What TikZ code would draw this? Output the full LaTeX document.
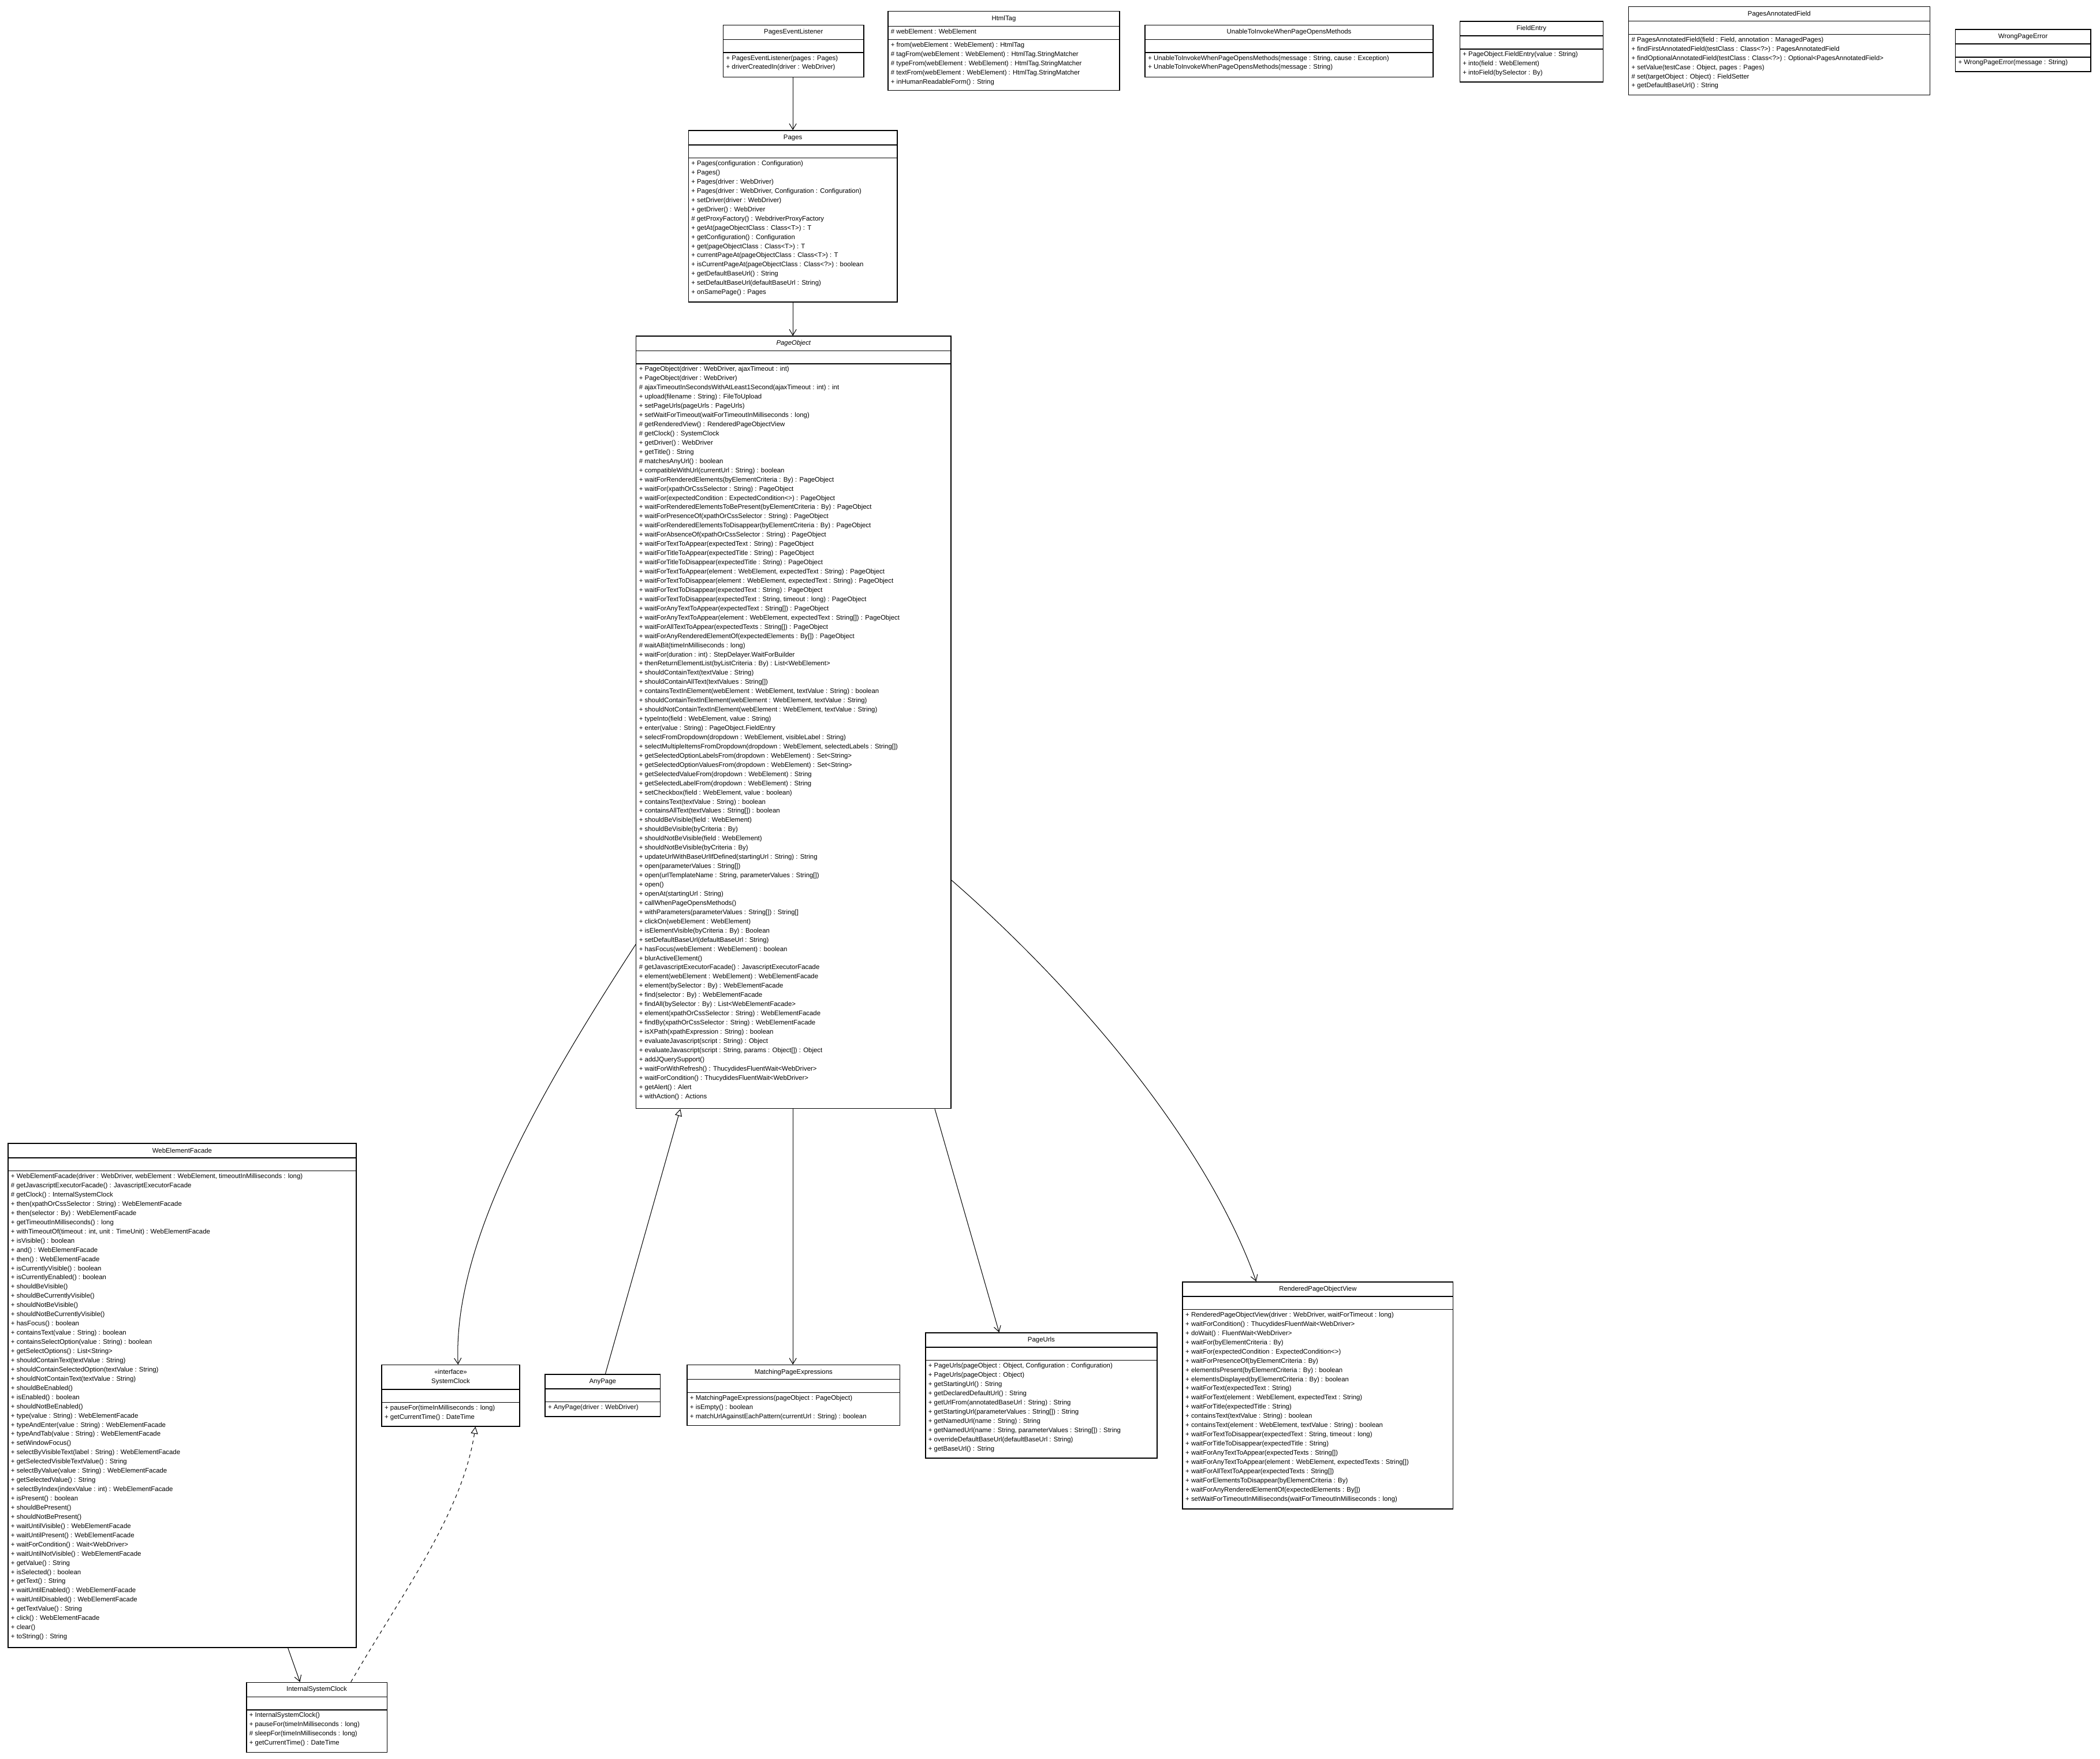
\documentclass[tikz,border=0pt]{standalone}
\usepackage{fontspec}
\setmainfont{Liberation Sans}
\usetikzlibrary{fit,arrows.meta}
\newcommand\bodyfont{\fontsize{5.6}{7.82}\selectfont}
\tikzset{
  ttl/.style={anchor=center,align=center,inner sep=0pt,font=\bodyfont},
  body/.style={anchor=north west,align=left,inner sep=0pt,font=\bodyfont},
  boxline/.style={line width=0.7pt},
  assoc/.style={line width=0.5pt,-{Straight Barb[length=5pt,width=6pt]}},
  gener/.style={line width=0.5pt,-{Triangle[open,length=6pt,width=6pt,fill=white]}},
}
\newcommand\umlclass[9]{%
  \node[fit={(#2,#4)(#3,#7)},inner sep=0pt,draw,boxline] (#1) {};
  \draw[boxline] (#2,#5) -- (#3,#5) (#2,#6) -- (#3,#6);
  \node[ttl] at ({(#2+#3)/2},{(#4+#5)/2}) {#8};
  \node[body] at (#2+2,#6+1.8) {#9};
}
\begin{document}
\begin{tikzpicture}[x=0.04cm,y=-0.04cm]
\useasboundingbox[fill=white] (0,0) rectangle (1568,1312.8);

\umlclass{pel}{540}{645}{18.7}{29.5}{39.3}{57.5}{PagesEventListener}{%
+ PagesEventListener(pages : Pages)\\
+ driverCreatedIn(driver : WebDriver)}

\umlclass{html}{663}{836}{8.3}{19.7}{29.5}{67.5}{HtmlTag}{%
+ from(webElement : WebElement) : HtmlTag\\
\# tagFrom(webElement : WebElement) : HtmlTag.StringMatcher\\
\# typeFrom(webElement : WebElement) : HtmlTag.StringMatcher\\
\# textFrom(webElement : WebElement) : HtmlTag.StringMatcher\\
+ inHumanReadableForm() : String}
\node[body] at (665,21.5) {\# webElement : WebElement};

\umlclass{unable}{855}{1070}{18.7}{29.5}{39.3}{57.5}{UnableToInvokeWhenPageOpensMethods}{%
+ UnableToInvokeWhenPageOpensMethods(message : String, cause : Exception)\\
+ UnableToInvokeWhenPageOpensMethods(message : String)}

\umlclass{fe}{1090}{1197}{16}{26.8}{36.6}{61.3}{FieldEntry}{%
+ PageObject.FieldEntry(value : String)\\
+ into(field : WebElement)\\
+ intoField(bySelector : By)}

\umlclass{paf}{1216}{1441}{5}{15.8}{25.6}{71}{PagesAnnotatedField}{%
\# PagesAnnotatedField(field : Field, annotation : ManagedPages)\\
+ findFirstAnnotatedField(testClass : Class<?>) : PagesAnnotatedField\\
+ findOptionalAnnotatedField(testClass : Class<?>) : Optional<PagesAnnotatedField>\\
+ setValue(testCase : Object, pages : Pages)\\
\# set(targetObject : Object) : FieldSetter\\
+ getDefaultBaseUrl() : String}

\umlclass{wpe}{1460}{1561}{22}{32.8}{42.6}{53.5}{WrongPageError}{%
+ WrongPageError(message : String)}

\umlclass{pages}{514}{670}{97.4}{108.2}{118}{225.5}{Pages}{%
+ Pages(configuration : Configuration)\\
+ Pages()\\
+ Pages(driver : WebDriver)\\
+ Pages(driver : WebDriver, Configuration : Configuration)\\
+ setDriver(driver : WebDriver)\\
+ getDriver() : WebDriver\\
\# getProxyFactory() : WebdriverProxyFactory\\
+ getAt(pageObjectClass : Class<T>) : T\\
+ getConfiguration() : Configuration\\
+ get(pageObjectClass : Class<T>) : T\\
+ currentPageAt(pageObjectClass : Class<T>) : T\\
+ isCurrentPageAt(pageObjectClass : Class<?>) : boolean\\
+ getDefaultBaseUrl() : String\\
+ setDefaultBaseUrl(defaultBaseUrl : String)\\
+ onSamePage() : Pages}

\umlclass{po}{475}{710}{251}{261.8}{271.6}{827.6}{\itshape PageObject}{%
+ PageObject(driver : WebDriver, ajaxTimeout : int)\\
+ PageObject(driver : WebDriver)\\
\# ajaxTimeoutInSecondsWithAtLeast1Second(ajaxTimeout : int) : int\\
+ upload(filename : String) : FileToUpload\\
+ setPageUrls(pageUrls : PageUrls)\\
+ setWaitForTimeout(waitForTimeoutInMilliseconds : long)\\
\# getRenderedView() : RenderedPageObjectView\\
\# getClock() : SystemClock\\
+ getDriver() : WebDriver\\
+ getTitle() : String\\
\# matchesAnyUrl() : boolean\\
+ compatibleWithUrl(currentUrl : String) : boolean\\
+ waitForRenderedElements(byElementCriteria : By) : PageObject\\
+ waitFor(xpathOrCssSelector : String) : PageObject\\
+ waitFor(expectedCondition : ExpectedCondition<>) : PageObject\\
+ waitForRenderedElementsToBePresent(byElementCriteria : By) : PageObject\\
+ waitForPresenceOf(xpathOrCssSelector : String) : PageObject\\
+ waitForRenderedElementsToDisappear(byElementCriteria : By) : PageObject\\
+ waitForAbsenceOf(xpathOrCssSelector : String) : PageObject\\
+ waitForTextToAppear(expectedText : String) : PageObject\\
+ waitForTitleToAppear(expectedTitle : String) : PageObject\\
+ waitForTitleToDisappear(expectedTitle : String) : PageObject\\
+ waitForTextToAppear(element : WebElement, expectedText : String) : PageObject\\
+ waitForTextToDisappear(element : WebElement, expectedText : String) : PageObject\\
+ waitForTextToDisappear(expectedText : String) : PageObject\\
+ waitForTextToDisappear(expectedText : String, timeout : long) : PageObject\\
+ waitForAnyTextToAppear(expectedText : String[]) : PageObject\\
+ waitForAnyTextToAppear(element : WebElement, expectedText : String[]) : PageObject\\
+ waitForAllTextToAppear(expectedTexts : String[]) : PageObject\\
+ waitForAnyRenderedElementOf(expectedElements : By[]) : PageObject\\
\# waitABit(timeInMilliseconds : long)\\
+ waitFor(duration : int) : StepDelayer.WaitForBuilder\\
+ thenReturnElementList(byListCriteria : By) : List<WebElement>\\
+ shouldContainText(textValue : String)\\
+ shouldContainAllText(textValues : String[])\\
+ containsTextInElement(webElement : WebElement, textValue : String) : boolean\\
+ shouldContainTextInElement(webElement : WebElement, textValue : String)\\
+ shouldNotContainTextInElement(webElement : WebElement, textValue : String)\\
+ typeInto(field : WebElement, value : String)\\
+ enter(value : String) : PageObject.FieldEntry\\
+ selectFromDropdown(dropdown : WebElement, visibleLabel : String)\\
+ selectMultipleItemsFromDropdown(dropdown : WebElement, selectedLabels : String[])\\
+ getSelectedOptionLabelsFrom(dropdown : WebElement) : Set<String>\\
+ getSelectedOptionValuesFrom(dropdown : WebElement) : Set<String>\\
+ getSelectedValueFrom(dropdown : WebElement) : String\\
+ getSelectedLabelFrom(dropdown : WebElement) : String\\
+ setCheckbox(field : WebElement, value : boolean)\\
+ containsText(textValue : String) : boolean\\
+ containsAllText(textValues : String[]) : boolean\\
+ shouldBeVisible(field : WebElement)\\
+ shouldBeVisible(byCriteria : By)\\
+ shouldNotBeVisible(field : WebElement)\\
+ shouldNotBeVisible(byCriteria : By)\\
+ updateUrlWithBaseUrlIfDefined(startingUrl : String) : String\\
+ open(parameterValues : String[])\\
+ open(urlTemplateName : String, parameterValues : String[])\\
+ open()\\
+ openAt(startingUrl : String)\\
+ callWhenPageOpensMethods()\\
+ withParameters(parameterValues : String[]) : String[]\\
+ clickOn(webElement : WebElement)\\
+ isElementVisible(byCriteria : By) : Boolean\\
+ setDefaultBaseUrl(defaultBaseUrl : String)\\
+ hasFocus(webElement : WebElement) : boolean\\
+ blurActiveElement()\\
\# getJavascriptExecutorFacade() : JavascriptExecutorFacade\\
+ element(webElement : WebElement) : WebElementFacade\\
+ element(bySelector : By) : WebElementFacade\\
+ find(selector : By) : WebElementFacade\\
+ findAll(bySelector : By) : List<WebElementFacade>\\
+ element(xpathOrCssSelector : String) : WebElementFacade\\
+ findBy(xpathOrCssSelector : String) : WebElementFacade\\
+ isXPath(xpathExpression : String) : boolean\\
+ evaluateJavascript(script : String) : Object\\
+ evaluateJavascript(script : String, params : Object[]) : Object\\
+ addJQuerySupport()\\
+ waitForWithRefresh() : ThucydidesFluentWait<WebDriver>\\
+ waitForCondition() : ThucydidesFluentWait<WebDriver>\\
+ getAlert() : Alert\\
+ withAction() : Actions}

\umlclass{wef}{6}{266}{853.6}{864.4}{874.2}{1230}{WebElementFacade}{%
+ WebElementFacade(driver : WebDriver, webElement : WebElement, timeoutInMilliseconds : long)\\
\# getJavascriptExecutorFacade() : JavascriptExecutorFacade\\
\# getClock() : InternalSystemClock\\
+ then(xpathOrCssSelector : String) : WebElementFacade\\
+ then(selector : By) : WebElementFacade\\
+ getTimeoutInMilliseconds() : long\\
+ withTimeoutOf(timeout : int, unit : TimeUnit) : WebElementFacade\\
+ isVisible() : boolean\\
+ and() : WebElementFacade\\
+ then() : WebElementFacade\\
+ isCurrentlyVisible() : boolean\\
+ isCurrentlyEnabled() : boolean\\
+ shouldBeVisible()\\
+ shouldBeCurrentlyVisible()\\
+ shouldNotBeVisible()\\
+ shouldNotBeCurrentlyVisible()\\
+ hasFocus() : boolean\\
+ containsText(value : String) : boolean\\
+ containsSelectOption(value : String) : boolean\\
+ getSelectOptions() : List<String>\\
+ shouldContainText(textValue : String)\\
+ shouldContainSelectedOption(textValue : String)\\
+ shouldNotContainText(textValue : String)\\
+ shouldBeEnabled()\\
+ isEnabled() : boolean\\
+ shouldNotBeEnabled()\\
+ type(value : String) : WebElementFacade\\
+ typeAndEnter(value : String) : WebElementFacade\\
+ typeAndTab(value : String) : WebElementFacade\\
+ setWindowFocus()\\
+ selectByVisibleText(label : String) : WebElementFacade\\
+ getSelectedVisibleTextValue() : String\\
+ selectByValue(value : String) : WebElementFacade\\
+ getSelectedValue() : String\\
+ selectByIndex(indexValue : int) : WebElementFacade\\
+ isPresent() : boolean\\
+ shouldBePresent()\\
+ shouldNotBePresent()\\
+ waitUntilVisible() : WebElementFacade\\
+ waitUntilPresent() : WebElementFacade\\
+ waitForCondition() : Wait<WebDriver>\\
+ waitUntilNotVisible() : WebElementFacade\\
+ getValue() : String\\
+ isSelected() : boolean\\
+ getText() : String\\
+ waitUntilEnabled() : WebElementFacade\\
+ waitUntilDisabled() : WebElementFacade\\
+ getTextValue() : String\\
+ click() : WebElementFacade\\
+ clear()\\
+ toString() : String}

\umlclass{sc}{285}{388}{1019}{1037.2}{1047}{1064.8}{«interface»\\SystemClock}{%
+ pauseFor(timeInMilliseconds : long)\\
+ getCurrentTime() : DateTime}

\umlclass{any}{407}{493}{1026}{1036.8}{1046.6}{1057.5}{AnyPage}{%
+ AnyPage(driver : WebDriver)}

\umlclass{mpe}{513}{672}{1019}{1029.8}{1039.6}{1064.3}{MatchingPageExpressions}{%
+ MatchingPageExpressions(pageObject : PageObject)\\
+ isEmpty() : boolean\\
+ matchUrlAgainstEachPattern(currentUrl : String) : boolean}

\umlclass{urls}{691}{864}{995}{1005.8}{1015.6}{1088.6}{PageUrls}{%
+ PageUrls(pageObject : Object, Configuration : Configuration)\\
+ PageUrls(pageObject : Object)\\
+ getStartingUrl() : String\\
+ getDeclaredDefaultUrl() : String\\
+ getUrlFrom(annotatedBaseUrl : String) : String\\
+ getStartingUrl(parameterValues : String[]) : String\\
+ getNamedUrl(name : String) : String\\
+ getNamedUrl(name : String, parameterValues : String[]) : String\\
+ overrideDefaultBaseUrl(defaultBaseUrl : String)\\
+ getBaseUrl() : String}

\umlclass{rpov}{883}{1085}{957}{967.8}{977.6}{1126.5}{RenderedPageObjectView}{%
+ RenderedPageObjectView(driver : WebDriver, waitForTimeout : long)\\
+ waitForCondition() : ThucydidesFluentWait<WebDriver>\\
+ doWait() : FluentWait<WebDriver>\\
+ waitFor(byElementCriteria : By)\\
+ waitFor(expectedCondition : ExpectedCondition<>)\\
+ waitForPresenceOf(byElementCriteria : By)\\
+ elementIsPresent(byElementCriteria : By) : boolean\\
+ elementIsDisplayed(byElementCriteria : By) : boolean\\
+ waitForText(expectedText : String)\\
+ waitForText(element : WebElement, expectedText : String)\\
+ waitForTitle(expectedTitle : String)\\
+ containsText(textValue : String) : boolean\\
+ containsText(element : WebElement, textValue : String) : boolean\\
+ waitForTextToDisappear(expectedText : String, timeout : long)\\
+ waitForTitleToDisappear(expectedTitle : String)\\
+ waitForAnyTextToAppear(expectedTexts : String[])\\
+ waitForAnyTextToAppear(element : WebElement, expectedTexts : String[])\\
+ waitForAllTextToAppear(expectedTexts : String[])\\
+ waitForElementsToDisappear(byElementCriteria : By)\\
+ waitForAnyRenderedElementOf(expectedElements : By[])\\
+ setWaitForTimeoutInMilliseconds(waitForTimeoutInMilliseconds : long)}

\umlclass{isc}{184}{289}{1256}{1266.8}{1276.6}{1308.2}{InternalSystemClock}{%
+ InternalSystemClock()\\
+ pauseFor(timeInMilliseconds : long)\\
\# sleepFor(timeInMilliseconds : long)\\
+ getCurrentTime() : DateTime}

\coordinate (kx592) at (592,0);
\coordinate (kx508) at (508,0);
\coordinate (kx452) at (452,0);
\coordinate (kx698) at (698,0);
\coordinate (kx746) at (746,0);
\coordinate (kx938) at (938,0);
\coordinate (kx342) at (342,0);
\coordinate (kx215) at (215,0);
\coordinate (kx224) at (224,0);
\coordinate (kx262) at (262,0);
\coordinate (kx355) at (355,0);
\coordinate (ky705) at (0,705);
\coordinate (ky657) at (0,657);

\draw[assoc] (pel.south -| kx592) -- (pages.north -| kx592);
\draw[assoc] (pages.south -| kx592) -- (po.north -| kx592);
\draw[assoc] (po.west |- ky705) .. controls (400,820) and (338,930) .. (sc.north -| kx342);
\draw[gener] (any.north -| kx452) -- (po.south -| kx508);
\draw[assoc] (po.south -| kx592) -- (mpe.north -| kx592);
\draw[assoc] (po.south -| kx698) -- (urls.north -| kx746);
\draw[assoc] (po.east |- ky657) .. controls (800,735) and (900,850) .. (rpov.north -| kx938);
\draw[assoc] (wef.south -| kx215) -- (isc.north -| kx224);
\draw[gener,dashed] (isc.north -| kx262) .. controls (300,1190) and (345,1130) .. (sc.south -| kx355);
\end{tikzpicture}
\end{document}
